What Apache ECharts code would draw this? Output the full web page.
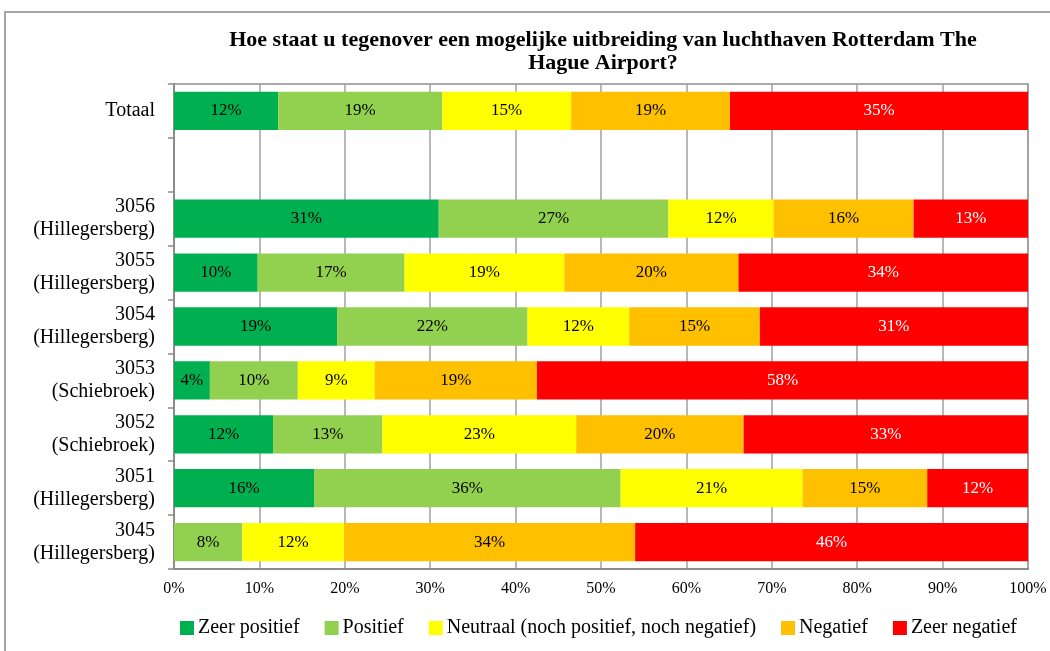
<!DOCTYPE html>
<html>
<head>
<meta charset="utf-8">
<script src="https://cdn.jsdelivr.net/npm/echarts@6/dist/echarts.min.js"></script>
<style>
  html, body { margin: 0; padding: 0; background: #fff; }
  #chart { width: 1050px; height: 651px; }
</style>
</head>
<body>
<div id="chart"></div>
<script>
// rijen van boven naar beneden (lege rij tussen Totaal en de postcodes)
var categories = ['Totaal', '', '3056\n(Hillegersberg)', '3055\n(Hillegersberg)', '3054\n(Hillegersberg)',
    '3053\n(Schiebroek)', '3052\n(Schiebroek)', '3051\n(Hillegersberg)', '3045\n(Hillegersberg)'];
var seriesNames = ['Zeer positief', 'Positief', 'Neutraal (noch positief, noch negatief)', 'Negatief', 'Zeer negatief'];
var zeerPositief = [12.2, null, 31.0, 9.8, 19.1, 4.2, 11.6, 16.4, 0];
var positief     = [19.2, null, 26.9, 17.2, 22.3, 10.3, 12.8, 35.9, 8.0];
var neutraal     = [15.1, null, 12.3, 18.7, 11.9, 9.0, 22.7, 21.3, 11.9];
var negatief     = [18.6, null, 16.4, 20.4, 15.3, 19.0, 19.6, 14.6, 34.1];
var zeerNegatief = [34.9, null, 13.4, 33.9, 31.4, 57.5, 33.3, 11.8, 46.0];
var colors = ['#00B050', '#92D050', '#FFFF00', '#FFC000', '#FF0000'];
var xTicks = [0, 10, 20, 30, 40, 50, 60, 70, 80, 90, 100];

var font = 'Liberation Serif';

window.addEventListener('load', function() {
    var myChart = echarts.init(document.getElementById('chart'));
    var allData = [zeerPositief, positief, neutraal, negatief, zeerNegatief];

    var series = allData.map(function(values, i) {
        return {
            name: seriesNames[i],
            type: 'bar',
            stack: 'totaal',
            barCategoryGap: '29%',
            itemStyle: { color: colors[i] },
            label: {
                show: true,
                position: 'inside',
                fontFamily: font,
                fontSize: 17,
                color: i === 4 ? '#fff' : '#000',
                formatter: function(p) {
                    if (!p.value) return '';
                    return Math.round(p.value) + '%';
                }
            },
            data: values
        };
    });

    var option = {
        animation: false,
        color: colors,
        textStyle: { fontFamily: font },
        title: {
            text: 'Hoe staat u tegenover een mogelijke uitbreiding van luchthaven Rotterdam The\nHague Airport?',
            left: 598,
            top: 24,
            textAlign: 'center',
            textStyle: {
                fontFamily: font,
                fontSize: 22,
                fontWeight: 'bold',
                color: '#000',
                lineHeight: 23
            }
        },
        legend: {
            bottom: 8,
            left: 175,
            itemWidth: 14,
            itemHeight: 14,
            itemGap: 25,
            icon: 'rect',
            textStyle: { fontFamily: font, fontSize: 20, color: '#000', padding: [0, 0, 0, -1] },
            data: seriesNames
        },
        grid: {
            left: 174,
            right: 22,
            top: 84,
            bottom: 82,
            show: true,
            borderColor: '#aaa',
            borderWidth: 2
        },
        xAxis: {
            type: 'value',
            min: 0,
            max: 100,
            interval: 10,
            axisLine: { show: true, lineStyle: { color: '#8c8c8c', width: 2 } },
            axisTick: { show: false },
            splitLine: { show: true, lineStyle: { color: '#a0a0a0', width: 1.5 } },
            axisLabel: {
                margin: 12,
                fontFamily: font,
                fontSize: 16,
                color: '#000',
                formatter: function(v) {
                    return xTicks.indexOf(v) >= 0 ? v + '%' : '';
                }
            }
        },
        yAxis: {
            type: 'category',
            inverse: true,
            data: categories,
            axisLine: { show: true, lineStyle: { color: '#8c8c8c', width: 2 } },
            axisTick: { show: true, length: 6, lineStyle: { color: '#8c8c8c', width: 1.5 } },
            axisLabel: {
                margin: 19,
                fontFamily: font,
                fontSize: 20,
                lineHeight: 23,
                color: '#000',
                align: 'right'
            }
        },
        graphic: [{
            type: 'rect',
            shape: { x: 5, y: 12, width: 1100, height: 700 },
            style: { fill: 'none', stroke: '#a6a6a6', lineWidth: 2 },
            silent: true,
            z: -10
        }],
        series: series
    };

    myChart.setOption(option);
});
</script>
</body>
</html>
